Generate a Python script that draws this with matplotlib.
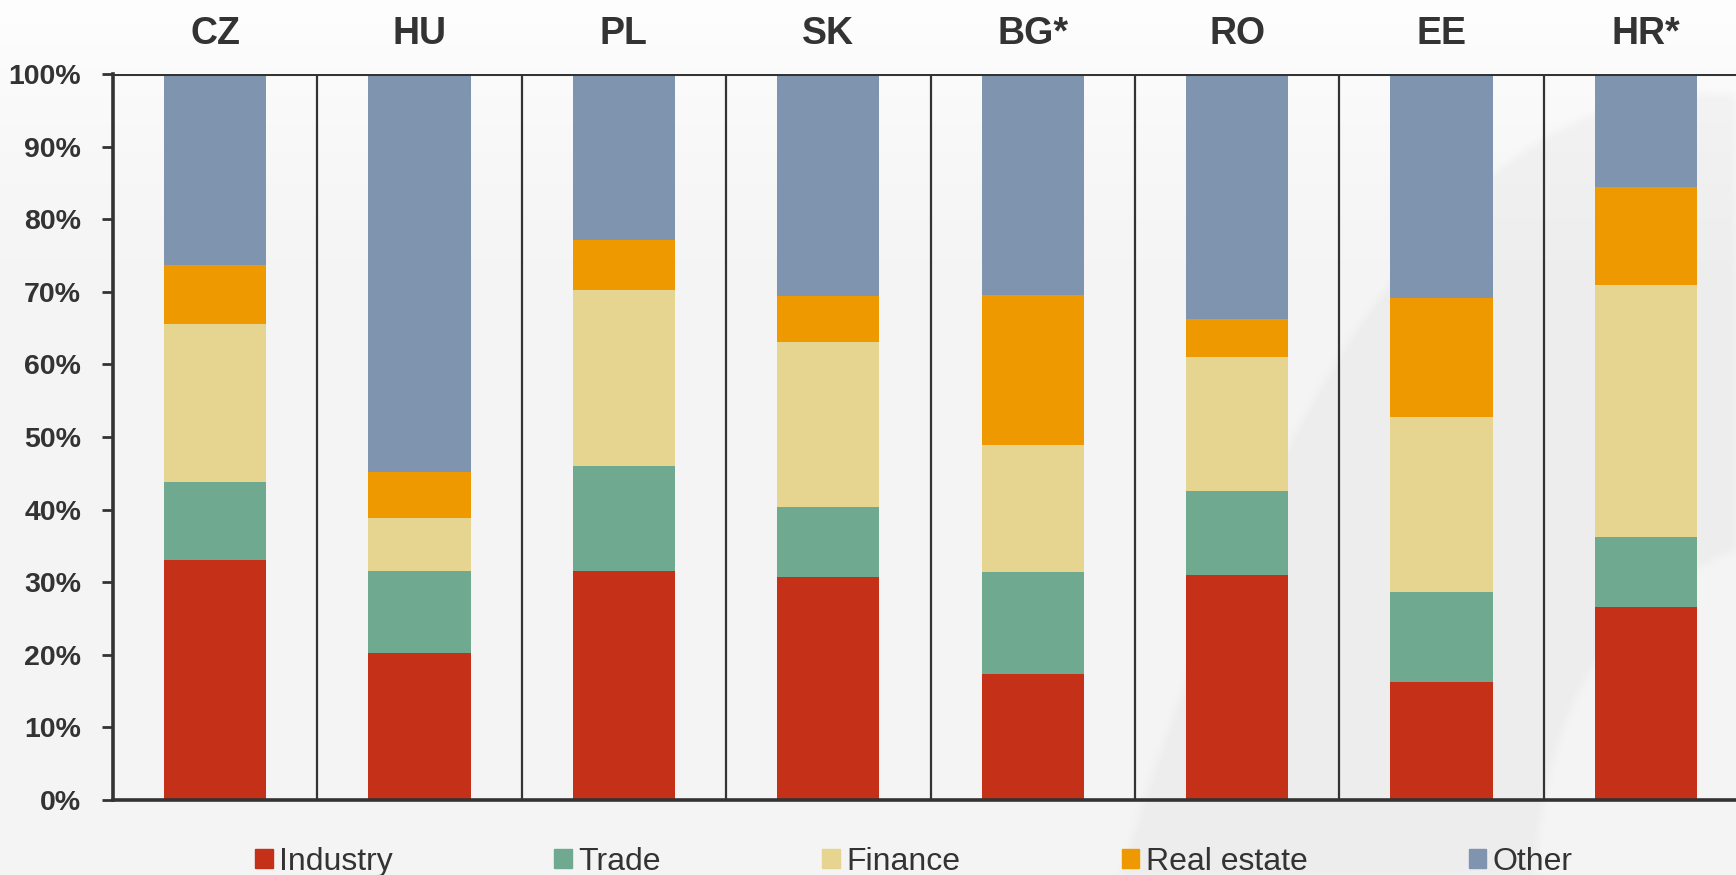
import numpy as np
import matplotlib.pyplot as plt
from matplotlib.path import Path
from matplotlib.patches import Patch

# sector shares of total (%), stacked bottom to top
countries = ['CZ', 'HU', 'PL', 'SK', 'BG*', 'RO', 'EE', 'HR*']
industry = [33.0, 20.2, 31.6, 30.7, 17.4, 31.0, 16.2, 26.6]
trade = [10.8, 11.4, 14.4, 9.6, 14.0, 11.5, 12.4, 9.6]
finance = [21.7, 7.3, 24.2, 22.8, 17.5, 18.5, 24.1, 34.7]
real_estate = [8.2, 6.3, 7.0, 6.3, 20.7, 5.2, 16.5, 13.5]
other = [26.3, 54.8, 22.8, 30.6, 30.4, 33.8, 30.8, 15.6]

sectors = ['Industry', 'Trade', 'Finance', 'Real estate', 'Other']
series = [industry, trade, finance, real_estate, other]
colors = ['#c53118', '#6fa990', '#e5d590', '#ee9900', '#7f94ae']
ink = '#333333'

W, H = 1736, 875
plt.rcParams['font.family'] = ['Liberation Sans', 'DejaVu Sans']
fig = plt.figure(figsize=(W / 100, H / 100), dpi=100)
fig.patch.set_facecolor('#f4f4f4')

# background: light grey, fading to white at the top, with a soft swoosh
yy, xx = np.mgrid[0:H, 0:W]
swoosh = Path([(1121, 875), (1372, 55), (1736, 95), (1736, 549),
               (1550, 620), (1534, 875), (1121, 875)],
              [Path.MOVETO, Path.CURVE3, Path.CURVE3, Path.LINETO,
               Path.CURVE3, Path.CURVE3, Path.CLOSEPOLY])
pts = np.column_stack([xx.ravel() + 0.5, yy.ravel() + 0.5])
mask = swoosh.contains_points(pts).reshape(H, W).astype(float)
# soften the swoosh edge with a box blur
r = 5
k = np.ones(2 * r + 1) / (2 * r + 1)
mask = np.apply_along_axis(lambda m: np.convolve(m, k, mode='same'), 1, mask)
mask = np.apply_along_axis(lambda m: np.convolve(m, k, mode='same'), 0, mask)
fade = np.clip(1 - yy / 330.0, 0, 1) ** 1.5
val = 244 + 10 * fade - 7 * mask
bg = np.dstack([val, val, val]) / 255.0
fig.figimage(bg, xo=0, yo=0, origin='upper', zorder=-10)

ax = fig.add_axes([113 / W, 1 - 800 / H, 1635 / W, 726 / H])
ax.set_facecolor('none')

x = np.arange(len(countries))
bottom = np.zeros(len(countries))
for name, vals, c in zip(sectors, series, colors):
    ax.bar(x, vals, 0.5, bottom=bottom, color=c, label=name, zorder=2)
    bottom += np.array(vals)

ax.vlines(x[:-1] + 0.5, 0, 100, color=ink, lw=1.6, zorder=3)
ax.axhline(100, color=ink, lw=2.2, zorder=3)

ax.set_xlim(-0.5, len(countries) - 0.5)
ax.set_ylim(0, 100)
for s in ['top', 'right']:
    ax.spines[s].set_visible(False)
for s in ['left', 'bottom']:
    ax.spines[s].set_color(ink)
    ax.spines[s].set_linewidth(2.6)

ax.set_yticks(range(0, 101, 10))
ax.set_yticklabels([f'{v}%' for v in range(0, 101, 10)], fontsize=20.5,
                   fontweight='bold', color=ink)
ax.tick_params(axis='y', length=8, width=2, color=ink, pad=15)

ax.set_xticks(x)
ax.set_xticklabels(countries, fontsize=27, fontweight='bold', color=ink)
ax.xaxis.set_ticks_position('top')
ax.tick_params(axis='x', length=0, pad=16)

handles = [Patch(color=c) for c in colors]
fig.legend(handles, sectors, loc='center', bbox_to_anchor=(914 / W, 1 - 862 / H),
           ncol=5, frameon=False, fontsize=23, handlelength=0.55, handleheight=0.55,
           handletextpad=0.2, columnspacing=5.05, borderpad=0, labelcolor=ink)

fig.savefig('out.png', dpi=100)
